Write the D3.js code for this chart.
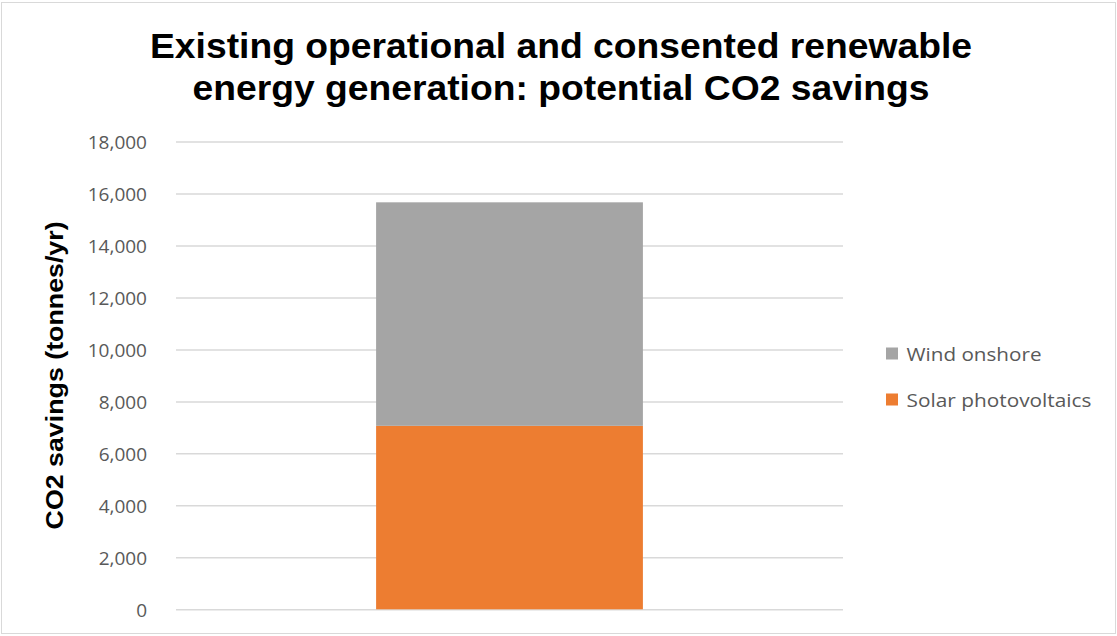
<!DOCTYPE html>
<html>
<head>
<meta charset="utf-8">
<script src="https://cdn.jsdelivr.net/npm/d3@7"></script>
<style>
  html, body { margin: 0; padding: 0; background: #fff; }
  svg { display: block; }
</style>
</head>
<body>
<svg id="chart" width="1117" height="636"></svg>
<script>
// Data
const categories = ["Total"];
const seriesNames = ["Solar photovoltaics", "Wind onshore"];
const solarValues = [7060];
const windValues = [8600];
const yTicks = [0, 2000, 4000, 6000, 8000, 10000, 12000, 14000, 16000, 18000];
const seriesColors = ["#ED7D31", "#A5A5A5"];
const titleLines = ["Existing operational and consented renewable", "energy generation: potential CO2 savings"];
const yTitle = "CO2 savings (tonnes/yr)";

const W = 1117, H = 636;
const margin = { left: 176, right: 274, top: 141.5, bottom: 26.7 };
const svg = d3.select("#chart");

// outer chart border
svg.append("rect")
  .attr("x", 1.5).attr("y", 2.5)
  .attr("width", W - 3).attr("height", H - 5)
  .attr("fill", "#fff").attr("stroke", "#D9D9D9").attr("stroke-width", 1);

const x = d3.scaleBand()
  .domain(categories)
  .range([margin.left, W - margin.right])
  .paddingInner(0.6).paddingOuter(0.3);

const y = d3.scaleLinear()
  .domain([0, 18000])
  .range([H - margin.bottom, margin.top]);

// gridlines + tick labels
const yAxis = d3.axisLeft(y)
  .tickValues(yTicks)
  .tickFormat(d3.format(","))
  .tickSize(-(W - margin.right - margin.left))
  .tickPadding(29);

const gy = svg.append("g")
  .attr("transform", `translate(${margin.left},0)`)
  .call(yAxis);
gy.select(".domain").remove();
gy.selectAll(".tick line").attr("stroke", "#D9D9D9").attr("stroke-width", 1.5);
gy.selectAll(".tick text")
  .attr("fill", "#595959")
  .attr("dy", "0.36em")
  .style("font-family", "'Open Sans', 'Liberation Sans', sans-serif")
  .style("font-size", "19px");

// stacked bars
const table = categories.map((c, i) => ({ category: c, solar: solarValues[i], wind: windValues[i] }));
const stack = d3.stack().keys(["solar", "wind"]);
const layers = stack(table);

svg.append("g").selectAll("g")
  .data(layers)
  .join("g")
  .attr("fill", (d, i) => seriesColors[i])
  .selectAll("rect")
  .data(d => d)
  .join("rect")
  .attr("x", d => x(d.data.category))
  .attr("width", x.bandwidth())
  .attr("y", d => y(d[1]))
  .attr("height", d => y(d[0]) - y(d[1]));

// title (two centred lines)
const titleLayout = [{ y: 58, len: 822 }, { y: 99.5, len: 737 }];
svg.append("g").selectAll("text")
  .data(titleLines)
  .join("text")
  .attr("x", 561)
  .attr("y", (d, i) => titleLayout[i].y)
  .attr("text-anchor", "middle")
  .attr("textLength", (d, i) => titleLayout[i].len)
  .attr("lengthAdjust", "spacingAndGlyphs")
  .attr("fill", "#000")
  .style("font-family", "'Liberation Sans', Arial, sans-serif")
  .style("font-weight", "bold")
  .style("font-size", "35px")
  .text(d => d);

// y-axis title
svg.append("text")
  .attr("transform", `translate(63,${(y(0) + y(18000)) / 2}) rotate(-90)`)
  .attr("text-anchor", "middle")
  .attr("textLength", 308)
  .attr("lengthAdjust", "spacingAndGlyphs")
  .attr("fill", "#000")
  .style("font-family", "'Liberation Sans', Arial, sans-serif")
  .style("font-weight", "bold")
  .style("font-size", "24px")
  .text(yTitle);

// legend (wind listed first, matching the stack order from the top)
const legendItems = [
  { name: seriesNames[1], color: seriesColors[1], len: 135 },
  { name: seriesNames[0], color: seriesColors[0], len: 185 }
];
const lg = svg.append("g").selectAll("g")
  .data(legendItems)
  .join("g")
  .attr("transform", (d, i) => `translate(886,${353.5 + i * 46})`);
lg.append("rect")
  .attr("x", 0).attr("y", -6)
  .attr("width", 12).attr("height", 12)
  .attr("fill", d => d.color);
lg.append("text")
  .attr("x", 20.5).attr("y", 7.5)
  .attr("textLength", d => d.len)
  .attr("lengthAdjust", "spacingAndGlyphs")
  .attr("fill", "#595959")
  .style("font-family", "'Open Sans', 'Liberation Sans', sans-serif")
  .style("font-size", "19px")
  .text(d => d.name);
</script>
</body>
</html>
